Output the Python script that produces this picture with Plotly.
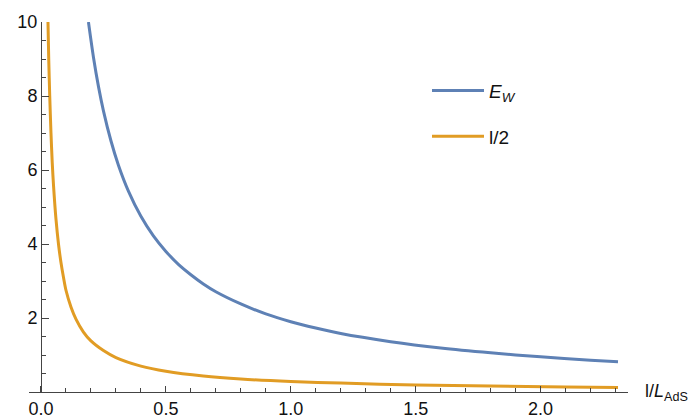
import plotly.graph_objects as go

# --- data ---
ew_x = [0.19, 0.21, 0.23, 0.25, 0.28, 0.31, 0.35, 0.40, 0.45, 0.50, 0.55, 0.60,
        0.65, 0.70, 0.80, 0.90, 1.00, 1.10, 1.20, 1.40, 1.60, 1.80, 2.00, 2.20, 2.31]
ew_y = [10.0, 9.05, 8.26, 7.60, 6.79, 6.13, 5.43, 4.75, 4.22, 3.80, 3.45, 3.17,
        2.92, 2.71, 2.38, 2.11, 1.90, 1.73, 1.58, 1.36, 1.19, 1.06, 0.95, 0.86, 0.82]

half_x = [0.028, 0.031, 0.035, 0.040, 0.045, 0.050, 0.060, 0.070, 0.080, 0.090,
          0.100, 0.120, 0.140, 0.170, 0.200, 0.250, 0.300, 0.400, 0.500, 0.650,
          0.800, 1.000, 1.200, 1.500, 1.800, 2.100, 2.310]
half_y = [10.0, 9.0, 8.0, 7.0, 6.2, 5.6, 4.67, 4.0, 3.5, 3.1,
          2.75, 2.3, 1.97, 1.62, 1.38, 1.12, 0.93, 0.70, 0.56, 0.43,
          0.35, 0.285, 0.24, 0.19, 0.16, 0.135, 0.125]

x_tickvals = [0, 0.5, 1.0, 1.5, 2.0]
x_ticktext = ["0.0", "0.5", "1.0", "1.5", "2.0"]
y_tickvals = [2, 4, 6, 8, 10]
y_ticktext = ["2", "4", "6", "8", "10"]

BLUE = "#5E81B5"
ORANGE = "#E19C24"
AXIS = "#444444"
FONT = "Liberation Sans, Arial, sans-serif"

fig = go.Figure()
fig.add_trace(go.Scatter(x=ew_x, y=ew_y, mode="lines", name="<i>E</i><sub><i>W</i></sub>",
                         line=dict(color=BLUE, width=3, shape="spline", smoothing=0.8),
                         legendgroup="a"))
fig.add_trace(go.Scatter(x=half_x, y=half_y, mode="lines", name="l/2",
                         line=dict(color=ORANGE, width=3, shape="spline", smoothing=0.8),
                         legendgroup="b"))

L, R, T, B = 29, 69, 22, 27
W, H = 697, 419
pw = W - L - R
ph = H - T - B

fig.update_layout(
    width=W, height=H,
    margin=dict(l=L, r=R, t=T, b=B, pad=0, autoexpand=False),
    plot_bgcolor="white", paper_bgcolor="white",
    font=dict(family=FONT, size=18, color="#111111"),
    showlegend=True,
    legend=dict(x=(432 - L - 5) / pw, y=1 - (91.7 - T - 20) / ph,
                xanchor="left", yanchor="top",
                font=dict(size=19), itemwidth=52,
                tracegroupgap=18, bgcolor="rgba(0,0,0,0)"),
    xaxis=dict(range=[-0.048, 2.35], showgrid=False, zeroline=False,
               automargin=False,
               showline=True, linecolor=AXIS, linewidth=1,
               tickvals=x_tickvals, ticktext=x_ticktext,
               ticks="inside", ticklen=6, tickcolor=AXIS, tickwidth=1,
               minor=dict(dtick=0.1, tick0=0, ticks="inside", ticklen=4,
                          tickcolor=AXIS, tickwidth=1, showgrid=False),
               tickfont=dict(size=18)),
    yaxis=dict(range=[0, 10], showgrid=False, zeroline=False,
               automargin=False,
               anchor="free", position=(41 - L) / pw,
               showline=True, linecolor=AXIS, linewidth=1,
               tickvals=y_tickvals, ticktext=y_ticktext,
               ticks="inside", ticklen=7, tickcolor=AXIS, tickwidth=1,
               minor=dict(dtick=0.5, tick0=0, ticks="inside", ticklen=4,
                          tickcolor=AXIS, tickwidth=1, showgrid=False),
               tickfont=dict(size=18)),
)

fig.add_annotation(text="l/<i>L</i><sub>AdS</sub>", xref="paper", yref="paper",
                   x=(643 - L) / pw, y=0, xanchor="left", yanchor="middle",
                   showarrow=False, font=dict(size=18))

fig.write_html("out.html", config={"displayModeBar": False},
               post_script="document.body.style.margin='0px';document.body.style.overflow='hidden';")
